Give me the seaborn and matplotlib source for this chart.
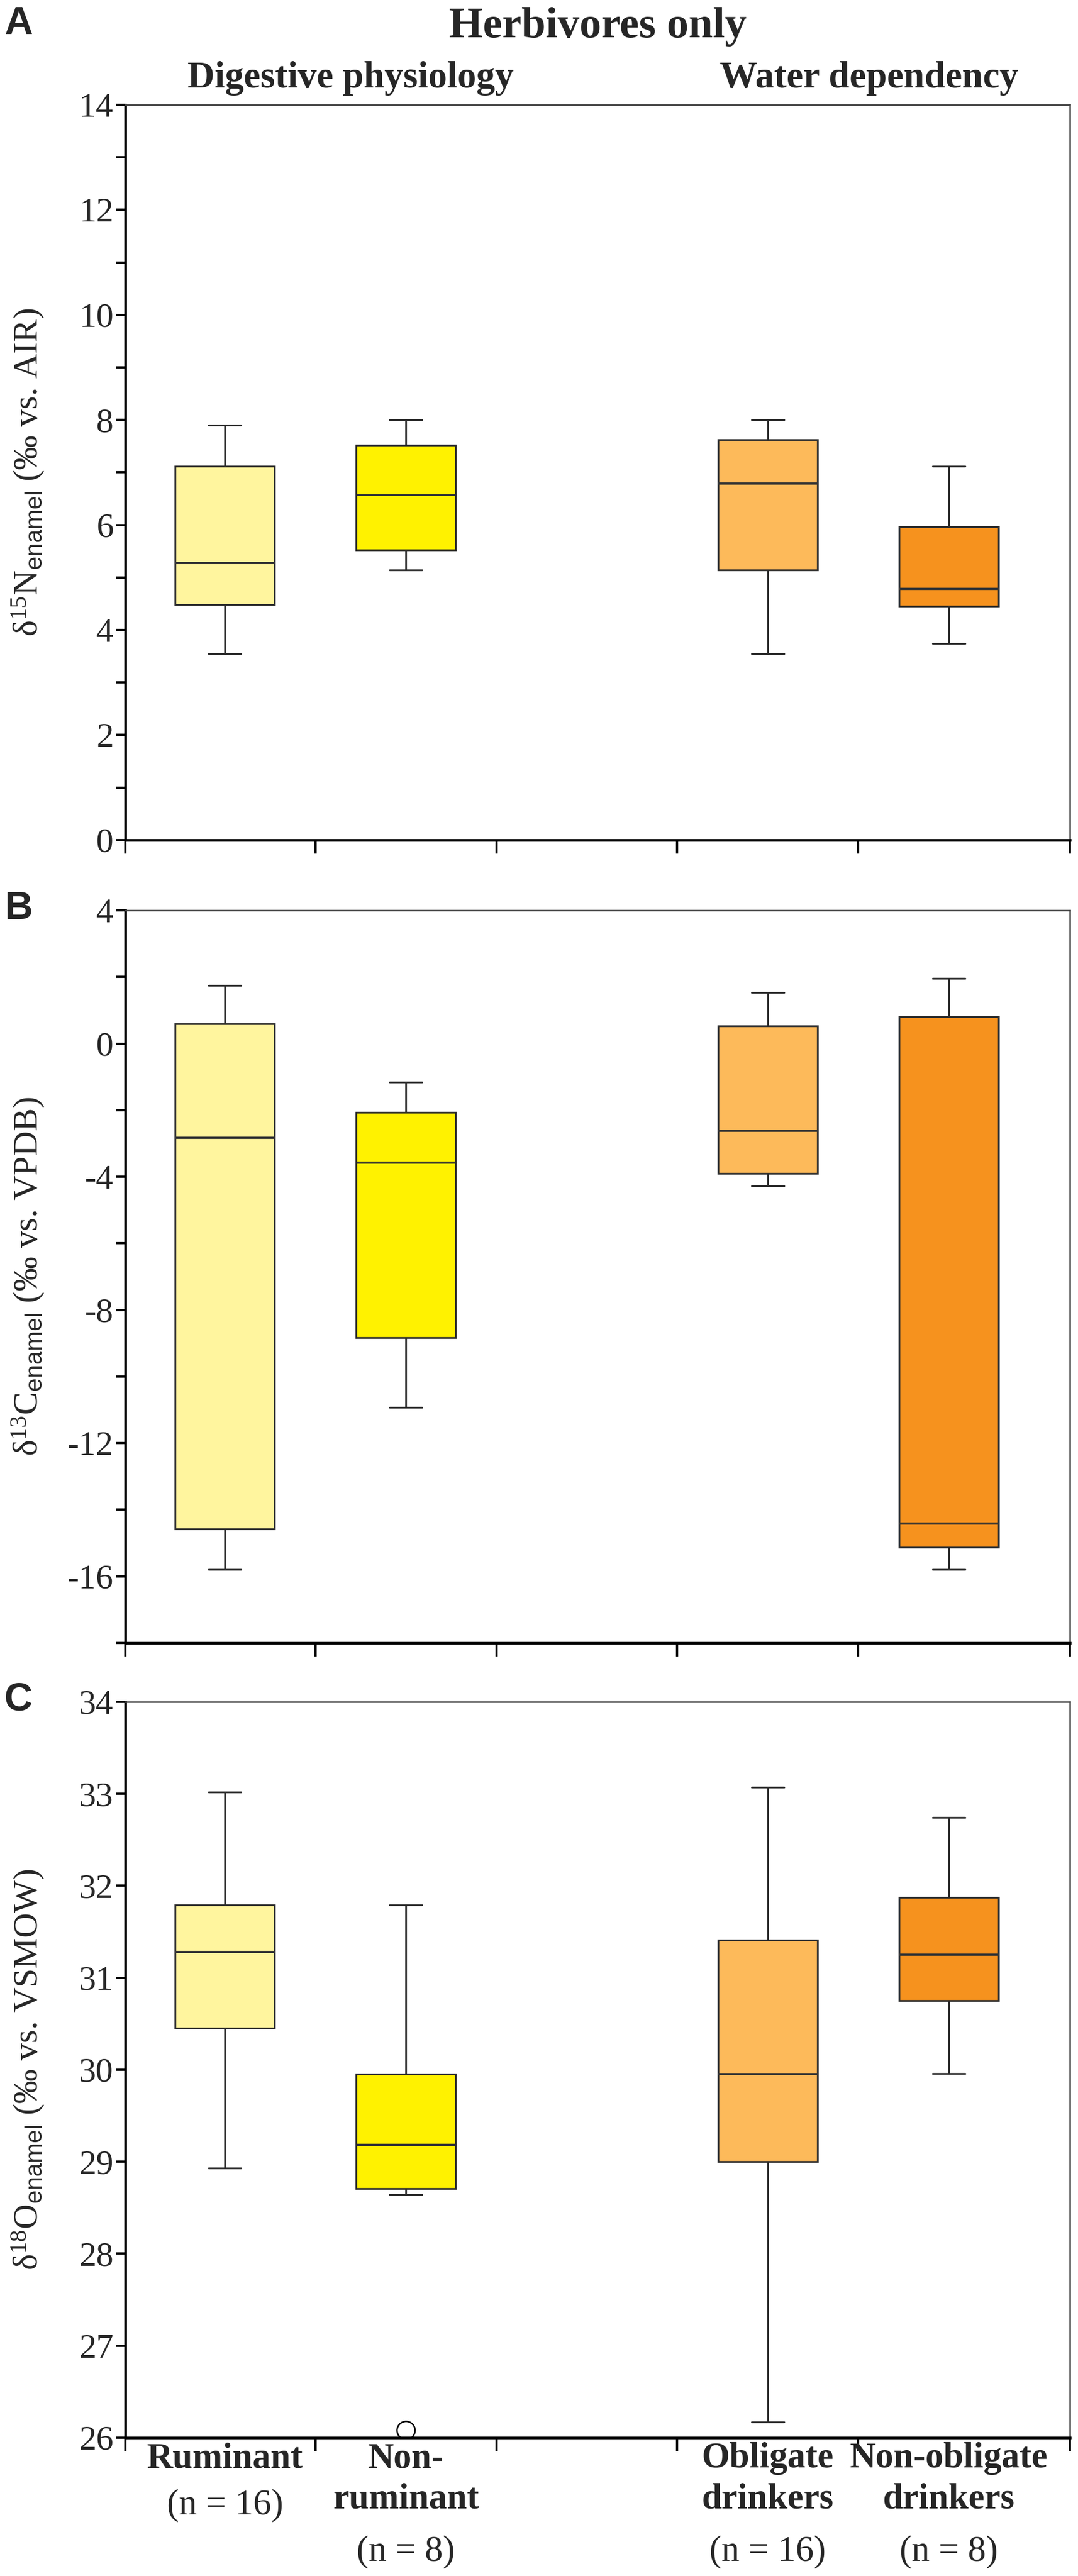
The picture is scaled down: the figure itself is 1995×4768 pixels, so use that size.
import numpy as np
import pandas as pd
import matplotlib
matplotlib.use("Agg")
import matplotlib.pyplot as plt
from matplotlib.ticker import MultipleLocator, NullLocator
import seaborn as sns

# groups and sample sizes
groups = ["Ruminant", "Non-ruminant", "Obligate drinkers", "Non-obligate drinkers"]
tick_names = ["Ruminant", "Non-\nruminant", "Obligate\ndrinkers", "Non-obligate\ndrinkers"]
n_sizes = [16, 8, 16, 8]
slot = [0, 1, 3, 4]  # slot 2 stays empty between the two groupings
colors = ["#FFF59E", "#FFF200", "#FDBA5A", "#F6921E"]

# box summaries (whisker low, Q1, median, Q3, whisker high)
n15_lo = [3.55, 5.14, 3.55, 3.74]
n15_q1 = [4.48, 5.52, 5.14, 4.45]
n15_med = [5.28, 6.57, 6.79, 4.78]
n15_q3 = [7.12, 7.52, 7.62, 5.97]
n15_hi = [7.90, 8.00, 8.00, 7.12]

c13_lo = [-15.80, -10.92, -4.28, -15.80]
c13_q1 = [-14.58, -8.84, -3.90, -15.13]
c13_med = [-2.83, -3.58, -2.62, -14.42]
c13_q3 = [0.60, -2.06, 0.53, 0.81]
c13_hi = [1.75, -1.16, 1.54, 1.96]

o18_lo = [28.93, 28.64, 26.17, 29.96]
o18_q1 = [30.45, 28.71, 29.00, 30.75]
o18_med = [31.28, 29.18, 29.95, 31.25]
o18_q3 = [31.79, 29.95, 31.41, 31.87]
o18_hi = [33.02, 31.79, 33.07, 32.74]
o18_out = [None, 26.08, None, None]

no_out = [None, None, None, None]


def make_frame(lo, q1, med, q3, hi, out):
    """9 values per group so numpy's quartiles land exactly on q1 / median / q3."""
    rows = []
    for i, g in enumerate(groups):
        first = lo[i] if out[i] is None else out[i]
        vals = [first, lo[i], q1[i], med[i], med[i], med[i], q3[i], hi[i], hi[i]]
        for v in vals:
            rows.append({"pos": slot[i], "group": g, "value": v})
    return pd.DataFrame(rows)


sns.set_theme(style="white")
plt.rcParams["font.family"] = ["Liberation Serif", "DejaVu Serif"]
plt.rcParams["mathtext.fontset"] = "custom"
plt.rcParams["mathtext.rm"] = "Liberation Serif"
plt.rcParams["mathtext.it"] = "Liberation Serif:italic"
plt.rcParams["mathtext.sf"] = "Liberation Sans"
plt.rcParams["axes.unicode_minus"] = False

fig = plt.figure(figsize=(19.95, 47.68), dpi=100)

panels = [
    dict(df=make_frame(n15_lo, n15_q1, n15_med, n15_q3, n15_hi, no_out),
         rect=[0.1163, 0.6739, 0.8762, 0.2854], ylim=(0, 14), major=2, minor=1,
         ylabel="δ$^{15}$N$_{\\mathsf{enamel}}$ (‰ vs. AIR)", letter="A", ltop=10),
    dict(df=make_frame(c13_lo, c13_q1, c13_med, c13_q3, c13_hi, no_out),
         rect=[0.1163, 0.3622, 0.8762, 0.2844], ylim=(-18, 4), major=4, minor=2,
         ylabel="δ$^{13}$C$_{\\mathsf{enamel}}$ (‰ vs. VPDB)", letter="B", ltop=1648),
    dict(df=make_frame(o18_lo, o18_q1, o18_med, o18_q3, o18_hi, o18_out),
         rect=[0.1163, 0.0537, 0.8762, 0.2857], ylim=(26, 34), major=1, minor=None,
         ylabel="δ$^{18}$O$_{\\mathsf{enamel}}$ (‰ vs. VSMOW)", letter="C", ltop=3112),
]

palette = dict(zip(groups, colors))
bounds = [-0.55, 0.5, 1.5, 2.5, 3.5, 4.67]

for k, p in enumerate(panels):
    ax = fig.add_axes(p["rect"])
    sns.boxplot(data=p["df"], x="pos", y="value", hue="group", hue_order=groups,
                palette=palette, saturation=1, native_scale=True, width=0.55,
                dodge=False, linecolor="#2b2b2b", linewidth=2.4, legend=False, ax=ax,
                capwidths=0.18,
                medianprops=dict(linewidth=3, color="#333333"),
                flierprops=dict(marker="o", markersize=24, markerfacecolor="white",
                                markeredgecolor="black", markeredgewidth=2))
    ax.set_xlim(bounds[0], bounds[-1])
    ax.set_ylim(*p["ylim"])
    ax.yaxis.set_major_locator(MultipleLocator(p["major"]))
    if p["minor"]:
        ax.yaxis.set_minor_locator(MultipleLocator(p["minor"]))
    else:
        ax.yaxis.set_minor_locator(NullLocator())
    ax.tick_params(axis="y", which="both", direction="out", length=12, width=3,
                   color="black", labelsize=46, pad=4, left=True,
                   labelfontfamily="Liberation Serif")
    ax.set_xticks(slot)
    ax.set_xticklabels([])
    ax.set_xticks(bounds, minor=True)
    ax.tick_params(axis="x", which="major", length=0)
    ax.tick_params(axis="x", which="minor", direction="out", length=18, width=3,
                   color="black", bottom=True)
    ax.set_xlabel("")
    ax.set_ylabel(p["ylabel"], fontsize=46)
    ax.yaxis.set_label_coords(-0.084, 0.5)

    for side in ["left", "bottom"]:
        ax.spines[side].set_color("black")
        ax.spines[side].set_linewidth(3.5)
    for side in ["top", "right"]:
        ax.spines[side].set_color("#444444")
        ax.spines[side].set_linewidth(2)

    fig.text(8 / 1995, 1 - p["ltop"] / 4768, p["letter"], family="Liberation Sans",
             fontweight="bold", fontsize=52, ha="left", va="top")

    if k == 2:
        for i in range(len(groups)):
            nlines = tick_names[i].count("\n") + 1
            ax.annotate(tick_names[i], xy=(slot[i], 0), xycoords=("data", "axes fraction"),
                        xytext=(0, -6), textcoords="offset points", ha="center", va="top",
                        fontsize=48, fontweight="bold", linespacing=1.3)
            ax.annotate(f"(n = {n_sizes[i]})", xy=(slot[i], 0),
                        xycoords=("data", "axes fraction"),
                        xytext=(0, -6 - 62 * nlines), textcoords="offset points",
                        ha="center", va="top", fontsize=48)

fig.text(1106 / 1995, 1 - 69 / 4768, "Herbivores only", fontsize=58,
         fontweight="bold", ha="center", va="baseline")
fig.text(649 / 1995, 1 - 162 / 4768, "Digestive physiology", fontsize=50,
         fontweight="bold", ha="center", va="baseline")
fig.text(1608 / 1995, 1 - 162 / 4768, "Water dependency", fontsize=50,
         fontweight="bold", ha="center", va="baseline")

fig.savefig("out.png", dpi=100, facecolor="white")
